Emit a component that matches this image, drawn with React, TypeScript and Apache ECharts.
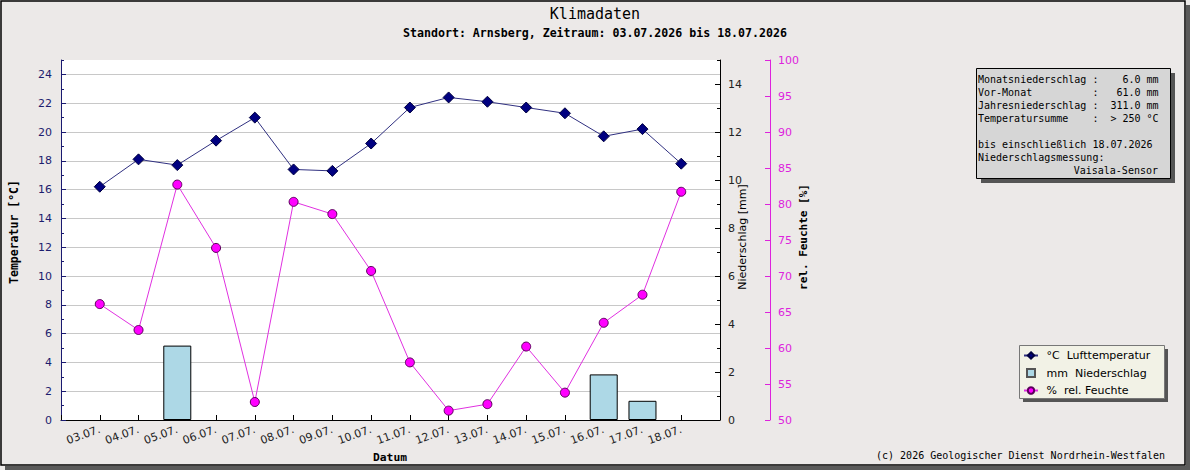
import React, { useEffect, useRef } from 'react';
import * as echarts from 'echarts';

// Daily climate readings for Arnsberg
const days = ['03.07.', '04.07.', '05.07.', '06.07.', '07.07.', '08.07.', '09.07.', '10.07.', '11.07.', '12.07.', '13.07.', '14.07.', '15.07.', '16.07.', '17.07.', '18.07.'];
const temperature = [16.2, 18.1, 17.7, 19.4, 21.0, 17.4, 17.3, 19.2, 21.7, 22.4, 22.1, 21.7, 21.3, 19.7, 20.2, 17.8];
const precipitation = [0, 0, 3.1, 0, 0, 0, 0, 0, 0, 0, 0, 0, 0, 1.9, 0.8, 0];
const humidity = [66.1, 62.5, 82.7, 73.9, 52.5, 80.3, 78.6, 70.7, 58.0, 51.3, 52.2, 60.2, 53.8, 63.5, 67.4, 81.7];

const seriesNames = ['°C  Lufttemperatur', 'mm  Niederschlag', '%  rel. Feuchte'];

const statsLines = [
  'Monatsniederschlag :    6.0 mm',
  'Vor-Monat          :   61.0 mm',
  'Jahresniederschlag :  311.0 mm',
  'Temperatursumme    :  > 250 °C',
  '',
  'bis einschließlich 18.07.2026',
  'Niederschlagsmessung:',
];
const sensorName = 'Vaisala-Sensor';

const titleText = 'Klimadaten';
const subtitleText = 'Standort: Arnsberg, Zeitraum: 03.07.2026 bis 18.07.2026';
const copyrightText = '(c) 2026 Geologischer Dienst Nordrhein-Westfalen';

const MONO = '"DejaVu Sans Mono", "Liberation Mono", monospace';
const SANS = '"DejaVu Sans", Verdana, sans-serif';

// one empty slot on each side of the date range
const pad = <T,>(arr: T[]): (T | null)[] => [null, ...arr, null];

export default function App() {
  const ref = useRef<HTMLDivElement>(null);

  useEffect(() => {
    if (!ref.current) return;
    const chart = echarts.init(ref.current, undefined, { renderer: 'svg' });

    const minorTickAxis = (position: 'left' | 'right', max: number, color: string) => ({
      type: 'value',
      position,
      min: 0,
      max,
      interval: 1,
      axisLine: { show: false },
      axisTick: { show: true, inside: true, length: 3, lineStyle: { color } },
      axisLabel: { show: false },
      splitLine: { show: false },
    });

    // dry days get no bar at all
    const rainBars = pad(precipitation).map((v) => (v !== null && v > 0 ? v : null));

    const option: any = {
      animation: false,
      backgroundColor: '#ece9e8',
      grid: {
        left: 61,
        right: 470,
        top: 60,
        bottom: 50,
        show: true,
        backgroundColor: '#ffffff',
        borderWidth: 0,
      },
      xAxis: {
        type: 'category',
        boundaryGap: false,
        data: ['', ...days, ''],
        axisLine: { lineStyle: { color: '#000', width: 1 } },
        axisTick: { inside: true, length: 5, interval: 0, lineStyle: { color: '#000' } },
        axisLabel: {
          interval: 0,
          rotate: 20,
          margin: 9,
          color: '#222',
          fontFamily: SANS,
          fontSize: 11,
        },
        splitLine: { show: false },
      },
      yAxis: [
        {
          type: 'value',
          position: 'left',
          min: 0,
          max: 25,
          interval: 2,
          axisLine: { show: true, lineStyle: { color: '#1a1a70', width: 1 } },
          axisTick: { show: true, inside: true, length: 5, lineStyle: { color: '#1a1a70' } },
          axisLabel: { margin: 9, color: '#1c1c6e', fontFamily: SANS, fontSize: 11, showMaxLabel: false },
          splitLine: { show: true, showMinLine: false, showMaxLine: false, lineStyle: { color: '#c8c8c8', width: 1 } },
        },
        {
          type: 'value',
          position: 'right',
          min: 0,
          max: 15,
          interval: 2,
          axisLine: { show: true, lineStyle: { color: '#000', width: 1 } },
          axisTick: { show: true, inside: true, length: 5, lineStyle: { color: '#000' } },
          axisLabel: { margin: 8, color: '#222', fontFamily: SANS, fontSize: 11, showMaxLabel: false },
          splitLine: { show: false },
        },
        {
          type: 'value',
          position: 'right',
          offset: 50,
          min: 50,
          max: 100,
          interval: 5,
          axisLine: { show: true, lineStyle: { color: '#dd22dd', width: 1 } },
          axisTick: { show: true, inside: true, length: 5, lineStyle: { color: '#dd22dd' } },
          axisLabel: { margin: 8, color: '#dd22dd', fontFamily: SANS, fontSize: 11 },
          splitLine: { show: false },
        },
        minorTickAxis('left', 25, '#1a1a70'),
        minorTickAxis('right', 15, '#000'),
      ],
      legend: {
        orient: 'vertical',
        left: 1023,
        top: 349,
        itemWidth: 14,
        itemHeight: 8,
        itemGap: 4.5,
        padding: 0,
        selectedMode: false,
        textStyle: { fontFamily: SANS, fontSize: 11, color: '#000', lineHeight: 13 },
        formatter: (name: string) => ' ' + name,
        data: [
          { name: seriesNames[0] },
          { name: seriesNames[1], icon: 'path://M0,0H10V10H0Z', itemStyle: { borderColor: '#555' } },
          { name: seriesNames[2] },
        ],
      },
      series: [
        {
          name: seriesNames[1],
          type: 'bar',
          yAxisIndex: 1,
          barWidth: 28,
          z: 1,
          data: rainBars,
          itemStyle: { color: '#add8e6', borderColor: '#000', borderWidth: 1 },
        },
        {
          name: seriesNames[2],
          type: 'line',
          yAxisIndex: 2,
          z: 3,
          data: pad(humidity),
          symbol: 'circle',
          symbolSize: 9,
          lineStyle: { color: '#e030e0', width: 1 },
          itemStyle: { color: '#ff00ff', borderColor: '#5a005a', borderWidth: 1 },
        },
        {
          name: seriesNames[0],
          type: 'line',
          yAxisIndex: 0,
          z: 4,
          data: pad(temperature),
          symbol: 'diamond',
          symbolSize: 11,
          lineStyle: { color: '#303080', width: 1 },
          itemStyle: { color: '#000080', borderColor: '#000040', borderWidth: 1 },
        },
      ],
      graphic: [
        // outer frame with shadow
        { type: 'rect', shape: { x: 1, y: 1, width: 1184, height: 464 }, style: { fill: 'none', stroke: '#000', lineWidth: 1.5 }, silent: true },
        { type: 'rect', shape: { x: 1186, y: 5, width: 4, height: 465 }, style: { fill: '#5a5a5a' }, silent: true },
        { type: 'rect', shape: { x: 5, y: 466, width: 1185, height: 4 }, style: { fill: '#5a5a5a' }, silent: true },
        // titles
        { type: 'text', x: 595, y: 14, style: { text: titleText, font: `15px ${MONO}`, fill: '#000', textAlign: 'center', textVerticalAlign: 'middle' } },
        { type: 'text', x: 595, y: 33, style: { text: subtitleText, font: `bold 11.6px ${MONO}`, fill: '#000', textAlign: 'center', textVerticalAlign: 'middle' } },
        // axis names
        { type: 'text', x: 14, y: 232, rotation: Math.PI / 2, style: { text: 'Temperatur [°C]', font: `bold 11.5px ${MONO}`, fill: '#000', textAlign: 'center', textVerticalAlign: 'middle' } },
        { type: 'text', x: 742, y: 237, rotation: Math.PI / 2, style: { text: 'Niederschlag [mm]', font: `11px ${SANS}`, fill: '#000', textAlign: 'center', textVerticalAlign: 'middle' } },
        { type: 'text', x: 803, y: 237, rotation: Math.PI / 2, style: { text: 'rel. Feuchte [%]', font: `bold 11px ${MONO}`, fill: '#000', textAlign: 'center', textVerticalAlign: 'middle' } },
        { type: 'text', x: 390, y: 457, style: { text: 'Datum', font: `bold 11.3px ${MONO}`, fill: '#000', textAlign: 'center', textVerticalAlign: 'middle' } },
        // statistics box
        { type: 'rect', shape: { x: 981, y: 73, width: 194, height: 110 }, style: { fill: '#555' }, silent: true },
        { type: 'rect', shape: { x: 976.5, y: 68.5, width: 194, height: 110 }, style: { fill: '#d6d6d6', stroke: '#000', lineWidth: 1 }, silent: true },
        { type: 'text', x: 978, y: 72.5, style: { text: statsLines.join('\n'), font: `10px ${MONO}`, lineHeight: 13, fill: '#000', textAlign: 'left', textVerticalAlign: 'top' } },
        { type: 'text', x: 1158, y: 72.5 + 7 * 13, style: { text: sensorName, font: `10px ${MONO}`, lineHeight: 13, fill: '#000', textAlign: 'right', textVerticalAlign: 'top' } },
        // legend box
        { type: 'rect', shape: { x: 1023, y: 349, width: 145, height: 53 }, style: { fill: '#555' }, silent: true },
        { type: 'rect', shape: { x: 1019.5, y: 345.5, width: 145, height: 53 }, style: { fill: '#f2f2e6', stroke: '#777', lineWidth: 1 }, silent: true },
        // copyright
        { type: 'text', x: 1165, y: 455, style: { text: copyrightText, font: `10px ${MONO}`, fill: '#000', textAlign: 'right', textVerticalAlign: 'middle' } },
      ],
    };

    chart.setOption(option);
    return () => chart.dispose();
  }, []);

  return (
    <div
      ref={ref}
      style={{ position: 'fixed', left: 0, top: 0, width: 1190, height: 470 }}
    />
  );
}
